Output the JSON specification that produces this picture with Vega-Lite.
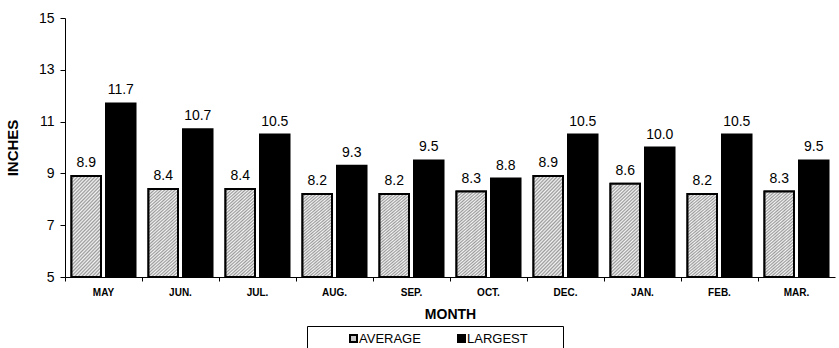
{
  "$schema": "https://vega.github.io/schema/vega-lite/v6.json",
  "width": 770,
  "height": 259,
  "autosize": "none",
  "padding": {"left": 65, "top": 18, "right": 4, "bottom": 71},
  "background": "white",
  "config": {
    "font": "Liberation Sans",
    "view": {"stroke": null},
    "axis": {"grid": false, "domainColor": "#000", "tickColor": "#000", "labelColor": "#000", "titleColor": "#000", "labelFont": "Liberation Sans", "titleFont": "Liberation Sans"}
  },
  "data": {
    "values": [
      {"month": "MAY", "series": "AVERAGE", "value": 8.9},
      {"month": "MAY", "series": "LARGEST", "value": 11.7},
      {"month": "JUN.", "series": "AVERAGE", "value": 8.4},
      {"month": "JUN.", "series": "LARGEST", "value": 10.7},
      {"month": "JUL.", "series": "AVERAGE", "value": 8.4},
      {"month": "JUL.", "series": "LARGEST", "value": 10.5},
      {"month": "AUG.", "series": "AVERAGE", "value": 8.2},
      {"month": "AUG.", "series": "LARGEST", "value": 9.3},
      {"month": "SEP.", "series": "AVERAGE", "value": 8.2},
      {"month": "SEP.", "series": "LARGEST", "value": 9.5},
      {"month": "OCT.", "series": "AVERAGE", "value": 8.3},
      {"month": "OCT.", "series": "LARGEST", "value": 8.8},
      {"month": "DEC.", "series": "AVERAGE", "value": 8.9},
      {"month": "DEC.", "series": "LARGEST", "value": 10.5},
      {"month": "JAN.", "series": "AVERAGE", "value": 8.6},
      {"month": "JAN.", "series": "LARGEST", "value": 10.0},
      {"month": "FEB.", "series": "AVERAGE", "value": 8.2},
      {"month": "FEB.", "series": "LARGEST", "value": 10.5},
      {"month": "MAR.", "series": "AVERAGE", "value": 8.3},
      {"month": "MAR.", "series": "LARGEST", "value": 9.5}
    ]
  },
  "encoding": {
    "x": {
      "field": "month", "type": "nominal", "sort": null,
      "scale": {"paddingInner": 0, "paddingOuter": 0},
      "axis": {"title": "MONTH", "labelAngle": 0, "labelFontSize": 10, "labelFontWeight": "bold", "titleFontSize": 14, "titleFontWeight": "bold", "tickSize": 4, "bandPosition": 0, "labelPadding": 6, "titlePadding": 10, "domainWidth": 1}
    },
    "xOffset": {"field": "series", "type": "nominal", "scale": {"domain": ["AVERAGE", "LARGEST"], "paddingInner": 0.145, "paddingOuter": 0.188}},
    "y": {
      "field": "value", "type": "quantitative",
      "scale": {"domain": [5, 15], "nice": false, "zero": false},
      "axis": {"title": "INCHES", "values": [5, 7, 9, 11, 13, 15], "labelFontSize": 14, "titleFontSize": 15, "titleFontWeight": "bold", "tickSize": 5, "labelPadding": 6, "titlePadding": 18}
    }
  },
  "layer": [
    {
      "mark": {"type": "bar", "stroke": "#000", "strokeWidth": 2},
      "encoding": {
        "y2": {"datum": 5},
        "fill": {
          "field": "series", "type": "nominal",
          "scale": {"domain": ["AVERAGE", "LARGEST"], "range": ["#c8c8c8", "#000000"]},
          "legend": {
            "title": null, "orient": "none", "legendX": 242, "legendY": 308, "direction": "horizontal",
            "symbolType": "square", "symbolSize": 49, "symbolStrokeColor": "#000", "symbolStrokeWidth": 2,
            "labelFontSize": 13, "labelColor": "#000", "labelOffset": -1, "columnPadding": 0,
            "strokeColor": "#000", "padding": 6, "symbolOffset": 34,
            "labelExpr": "datum.label == 'LARGEST' ? 'LARGEST\u00a0\u00a0\u00a0\u00a0\u00a0\u00a0\u00a0\u00a0\u200b' : datum.label",
            "encode": {"symbols": {"update": {
              "fill": {"signal": "datum.value == 'AVERAGE' ? '#f0f0f0' : '#000000'"},
              "stroke": {"value": "#000000"},
              "strokeWidth": {"value": 2}
            }}}
          }
        }
      }
    },
    {
      "transform": [{"filter": "datum.series == 'AVERAGE'"}],
      "mark": {
        "type": "bar", "stroke": "#000", "strokeWidth": 2,
        "fill": {
          "gradient": "linear", "x1": 0, "y1": 0, "x2": 0.39, "y2": 1.3,
          "stops": [
            {"offset": 0, "color": "#9a9a9a"}, {"offset": 0.0125, "color": "#f4f4f4"}, {"offset": 0.025, "color": "#9a9a9a"}, {"offset": 0.0375, "color": "#f4f4f4"},
            {"offset": 0.05, "color": "#9a9a9a"}, {"offset": 0.0625, "color": "#f4f4f4"}, {"offset": 0.075, "color": "#9a9a9a"}, {"offset": 0.0875, "color": "#f4f4f4"},
            {"offset": 0.1, "color": "#9a9a9a"}, {"offset": 0.1125, "color": "#f4f4f4"}, {"offset": 0.125, "color": "#9a9a9a"}, {"offset": 0.1375, "color": "#f4f4f4"},
            {"offset": 0.15, "color": "#9a9a9a"}, {"offset": 0.1625, "color": "#f4f4f4"}, {"offset": 0.175, "color": "#9a9a9a"}, {"offset": 0.1875, "color": "#f4f4f4"},
            {"offset": 0.2, "color": "#9a9a9a"}, {"offset": 0.2125, "color": "#f4f4f4"}, {"offset": 0.225, "color": "#9a9a9a"}, {"offset": 0.2375, "color": "#f4f4f4"},
            {"offset": 0.25, "color": "#9a9a9a"}, {"offset": 0.2625, "color": "#f4f4f4"}, {"offset": 0.275, "color": "#9a9a9a"}, {"offset": 0.2875, "color": "#f4f4f4"},
            {"offset": 0.3, "color": "#9a9a9a"}, {"offset": 0.3125, "color": "#f4f4f4"}, {"offset": 0.325, "color": "#9a9a9a"}, {"offset": 0.3375, "color": "#f4f4f4"},
            {"offset": 0.35, "color": "#9a9a9a"}, {"offset": 0.3625, "color": "#f4f4f4"}, {"offset": 0.375, "color": "#9a9a9a"}, {"offset": 0.3875, "color": "#f4f4f4"},
            {"offset": 0.4, "color": "#9a9a9a"}, {"offset": 0.4125, "color": "#f4f4f4"}, {"offset": 0.425, "color": "#9a9a9a"}, {"offset": 0.4375, "color": "#f4f4f4"},
            {"offset": 0.45, "color": "#9a9a9a"}, {"offset": 0.4625, "color": "#f4f4f4"}, {"offset": 0.475, "color": "#9a9a9a"}, {"offset": 0.4875, "color": "#f4f4f4"},
            {"offset": 0.5, "color": "#9a9a9a"}, {"offset": 0.5125, "color": "#f4f4f4"}, {"offset": 0.525, "color": "#9a9a9a"}, {"offset": 0.5375, "color": "#f4f4f4"},
            {"offset": 0.55, "color": "#9a9a9a"}, {"offset": 0.5625, "color": "#f4f4f4"}, {"offset": 0.575, "color": "#9a9a9a"}, {"offset": 0.5875, "color": "#f4f4f4"},
            {"offset": 0.6, "color": "#9a9a9a"}, {"offset": 0.6125, "color": "#f4f4f4"}, {"offset": 0.625, "color": "#9a9a9a"}, {"offset": 0.6375, "color": "#f4f4f4"},
            {"offset": 0.65, "color": "#9a9a9a"}, {"offset": 0.6625, "color": "#f4f4f4"}, {"offset": 0.675, "color": "#9a9a9a"}, {"offset": 0.6875, "color": "#f4f4f4"},
            {"offset": 0.7, "color": "#9a9a9a"}, {"offset": 0.7125, "color": "#f4f4f4"}, {"offset": 0.725, "color": "#9a9a9a"}, {"offset": 0.7375, "color": "#f4f4f4"},
            {"offset": 0.75, "color": "#9a9a9a"}, {"offset": 0.7625, "color": "#f4f4f4"}, {"offset": 0.775, "color": "#9a9a9a"}, {"offset": 0.7875, "color": "#f4f4f4"},
            {"offset": 0.8, "color": "#9a9a9a"}, {"offset": 0.8125, "color": "#f4f4f4"}, {"offset": 0.825, "color": "#9a9a9a"}, {"offset": 0.8375, "color": "#f4f4f4"},
            {"offset": 0.85, "color": "#9a9a9a"}, {"offset": 0.8625, "color": "#f4f4f4"}, {"offset": 0.875, "color": "#9a9a9a"}, {"offset": 0.8875, "color": "#f4f4f4"},
            {"offset": 0.9, "color": "#9a9a9a"}, {"offset": 0.9125, "color": "#f4f4f4"}, {"offset": 0.925, "color": "#9a9a9a"}, {"offset": 0.9375, "color": "#f4f4f4"},
            {"offset": 0.95, "color": "#9a9a9a"}, {"offset": 0.9625, "color": "#f4f4f4"}, {"offset": 0.975, "color": "#9a9a9a"}, {"offset": 0.9875, "color": "#f4f4f4"},
            {"offset": 1, "color": "#9a9a9a"}
          ]
        }
      },
      "encoding": {"y2": {"datum": 5}}
    },
    {
      "mark": {"type": "text", "baseline": "bottom", "dy": -6, "fontSize": 14, "color": "#000"},
      "encoding": {"text": {"field": "value", "type": "quantitative", "format": ".1f"}}
    }
  ]
}
